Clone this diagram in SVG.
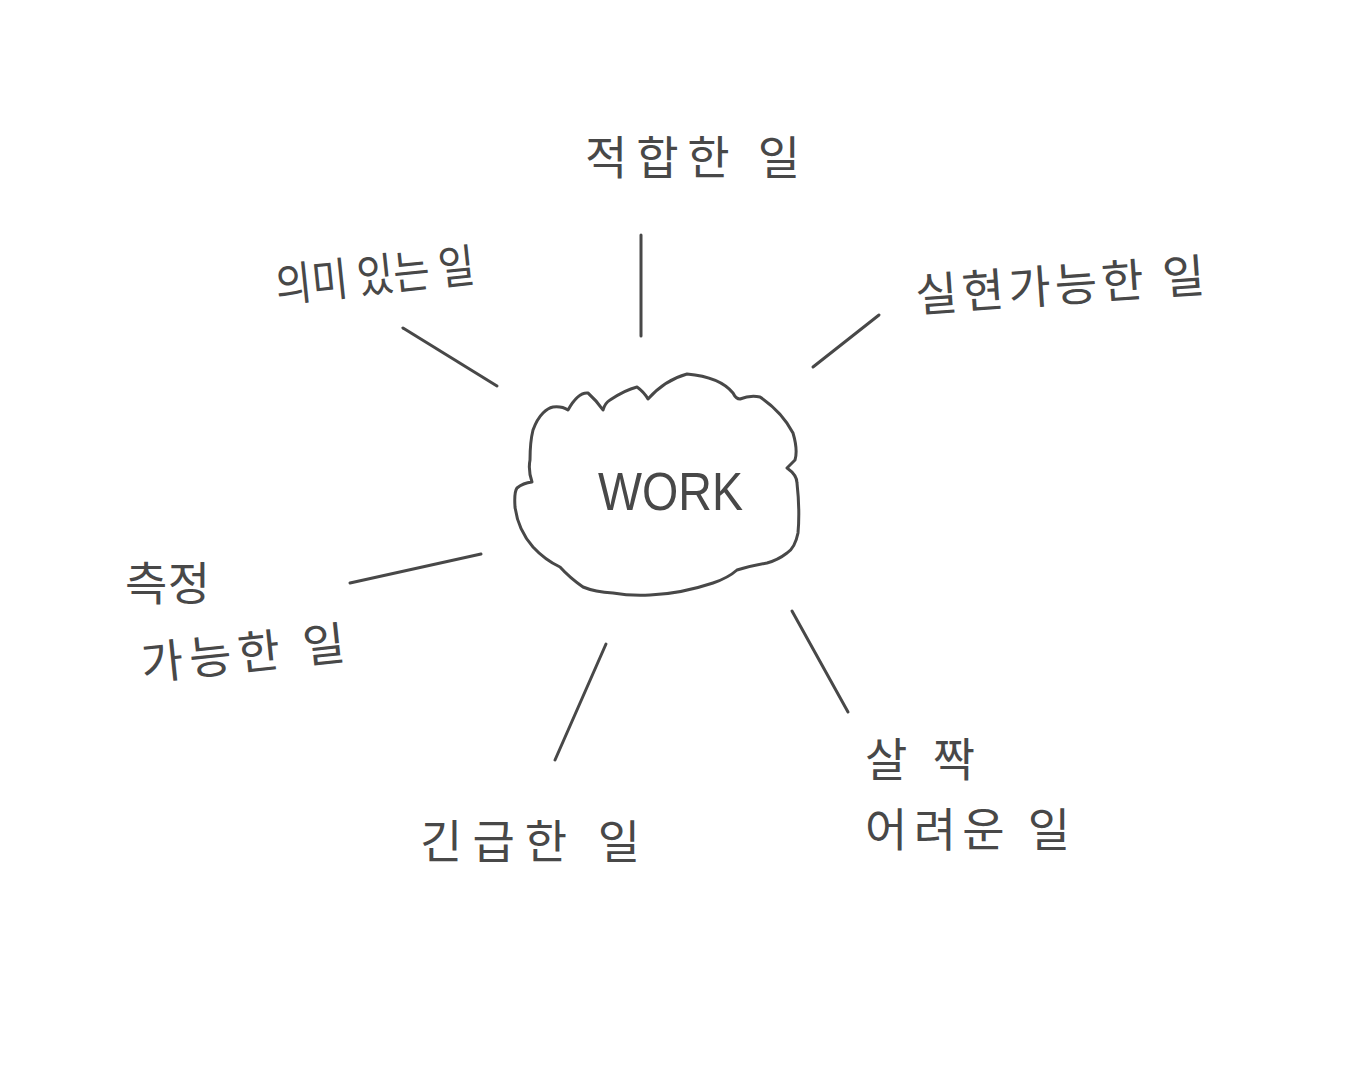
<svg xmlns="http://www.w3.org/2000/svg" width="1356" height="1086" viewBox="0 0 1356 1086">
<style>
.ln{stroke:#484848;stroke-width:3;stroke-linecap:round;fill:none}
.cloud{stroke:#484848;stroke-width:3;fill:#fff;stroke-linejoin:round}
.t{font-family:"Noto Sans CJK KR","Noto Sans",sans-serif;fill:#484848;font-size:46px}
.w{font-family:"Liberation Sans","Noto Sans",sans-serif;fill:#484848;font-size:54px}
</style>
<rect width="1356" height="1086" fill="#fff"/>
<g id="connectors">
<line class="ln" x1="641" y1="235" x2="641" y2="336"/>
<line class="ln" x1="403" y1="328" x2="497" y2="386"/>
<line class="ln" x1="879" y1="315" x2="813" y2="367"/>
<line class="ln" x1="481" y1="554" x2="350" y2="583"/>
<line class="ln" x1="606" y1="644" x2="555" y2="760"/>
<line class="ln" x1="792" y1="611" x2="848" y2="712"/>
</g>
<g id="work">
<path class="cloud" d="M553,407 Q562,406 568,410 Q578,392 588,393 Q596,400 603,410 Q605,403 610,400 Q625,390 637,387 Q644,392 648,399 Q665,380 687,374 Q720,377 733,393 Q736,399 740,399 Q750,395 760,397 Q782,412 793,433 Q798,450 795,460 Q790,465 787,468 Q797,475 797,483 Q800,510 798,533 Q795,548 787,553 Q778,560 767,563 Q750,566 737,570 Q728,578 713,583 Q680,594 650,595 Q630,596 613,593 Q595,592 583,587 Q570,578 560,567 Q545,560 533,547 Q518,530 515,507 Q514,492 517,488 Q523,483 532,482 Q528,470 530,460 Q530,442 533,430 Q537,419 543,413 Q548,408 553,407 Z"/>
<text class="w" x="598" y="510" textLength="145" lengthAdjust="spacingAndGlyphs">WORK</text>
</g>
<g id="n-top"><text class="t" x="585" y="174" font-size="48" textLength="215" lengthAdjust="spacing">적합한 일</text></g>
<g id="n-upleft"><text class="t" x="275" y="292" font-size="40" textLength="200" lengthAdjust="spacingAndGlyphs" transform="rotate(-6 375 275)">의미 있는 일</text></g>
<g id="n-upright"><text class="t" x="915" y="302" textLength="290" lengthAdjust="spacing" transform="rotate(-4 1060 285)">실현가능한 일</text></g>
<g id="n-left"><text class="t" x="125" y="600" font-size="42" textLength="85" lengthAdjust="spacing">측정</text><text class="t" x="140" y="670" font-size="48" textLength="205" lengthAdjust="spacing" transform="rotate(-6 242 650)">가능한 일</text></g>
<g id="n-bottom"><text class="t" x="420" y="858" font-size="48" textLength="220" lengthAdjust="spacing">긴급한 일</text></g>
<g id="n-bottomright"><text class="t" x="865" y="776" font-size="48" textLength="110" lengthAdjust="spacing">살짝</text><text class="t" x="865" y="846" font-size="48" textLength="205" lengthAdjust="spacing">어려운 일</text></g>
</svg>
